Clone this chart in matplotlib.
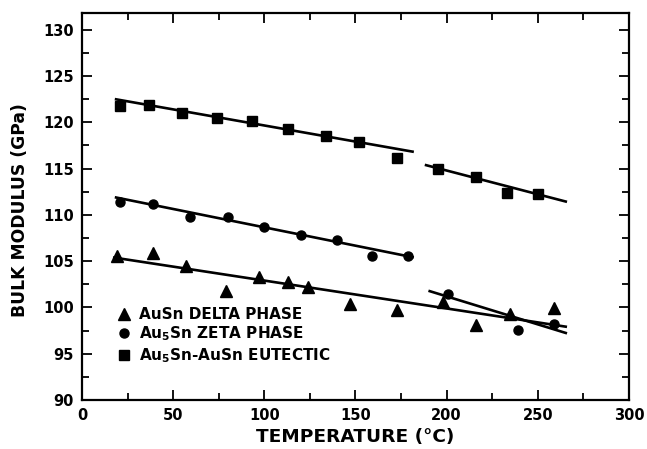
import matplotlib
matplotlib.use("Agg")
import matplotlib.pyplot as plt
from matplotlib.ticker import MultipleLocator

plt.rcParams['font.family'] = ['DejaVu Sans']
plt.rcParams['font.weight'] = 'bold'
plt.rcParams['mathtext.fontset'] = 'dejavusans'
plt.rcParams['mathtext.default'] = 'bf'

# Measured bulk modulus (GPa) vs temperature (deg C)
delta_temp = [19, 39, 57, 79, 97, 113, 124, 147, 173, 198, 216, 235, 259]
delta_mod = [105.6, 105.9, 104.5, 101.8, 103.3, 102.7, 102.2, 100.4, 99.7, 100.6, 98.1, 99.3, 99.9]

zeta_temp = [21, 39, 59, 80, 100, 120, 140, 159, 179, 201, 239, 259]
zeta_mod = [111.4, 111.2, 109.8, 109.8, 108.7, 107.8, 107.3, 105.6, 105.6, 101.5, 97.6, 98.2]

eut_temp = [21, 37, 55, 74, 93, 113, 134, 152, 173, 195, 216, 233, 250]
eut_mod = [121.8, 121.9, 121.0, 120.5, 120.1, 119.3, 118.5, 117.9, 116.1, 115.0, 114.1, 112.4, 112.2]

# Linear fits (end points of each fitted segment)
delta_fit_t = [17, 266]
delta_fit_k = [105.4, 97.9]
zeta_fit_low_t = [18, 182]
zeta_fit_low_k = [111.9, 105.4]
zeta_fit_high_t = [190, 266]
zeta_fit_high_k = [101.8, 97.2]
eut_fit_low_t = [18, 182]
eut_fit_low_k = [122.5, 116.8]
eut_fit_high_t = [188, 266]
eut_fit_high_k = [115.4, 111.4]

labels = ["AuSn DELTA PHASE", "Au$_5$Sn ZETA PHASE", "Au$_5$Sn-AuSn EUTECTIC"]

fig = plt.figure(figsize=(6.47, 4.49), dpi=100)
ax = fig.add_axes([0.1267, 0.1091, 0.8455, 0.862])

lw = 1.9
for t, k in [(delta_fit_t, delta_fit_k), (zeta_fit_low_t, zeta_fit_low_k),
             (zeta_fit_high_t, zeta_fit_high_k), (eut_fit_low_t, eut_fit_low_k),
             (eut_fit_high_t, eut_fit_high_k)]:
    ax.plot(t, k, color='black', lw=lw, solid_capstyle='butt')

h1, = ax.plot(delta_temp, delta_mod, '^', color='black', ms=8.5, ls='none', label=labels[0])
h2, = ax.plot(zeta_temp, zeta_mod, 'o', color='black', ms=6.5, ls='none', label=labels[1])
h3, = ax.plot(eut_temp, eut_mod, 's', color='black', ms=7.5, ls='none', label=labels[2])

ax.set_xlim(0, 300)
ax.set_ylim(90, 131.8)
ax.xaxis.set_major_locator(MultipleLocator(50))
ax.xaxis.set_minor_locator(MultipleLocator(25))
ax.yaxis.set_major_locator(MultipleLocator(5))
ax.yaxis.set_minor_locator(MultipleLocator(2.5))
ax.tick_params(which='both', direction='in', top=True, right=True, width=1.3,
               labelsize=10.5, pad=6)
ax.tick_params(which='major', length=7)
ax.tick_params(which='minor', length=5)
ax.set_yticks([90, 95, 100, 105, 110, 115, 120, 125, 130])
for s in ax.spines.values():
    s.set_linewidth(1.6)
for lab in ax.get_xticklabels() + ax.get_yticklabels():
    lab.set_fontweight('bold')

ax.set_xlabel("TEMPERATURE (°C)", fontsize=13.3, fontweight='bold', labelpad=3)
ax.set_ylabel("BULK MODULUS (GPa)", fontsize=12.3, fontweight='bold')
ax.yaxis.set_label_coords(-0.097, 0.49)

leg = ax.legend(handles=[h1, h2, h3], loc='lower left', bbox_to_anchor=(0.052, 0.075),
                frameon=False, handletextpad=0.45, labelspacing=0.18, borderaxespad=0,
                handlelength=1.0, prop={'weight': 'bold', 'size': 11})

fig.savefig("out.png", dpi=100)
